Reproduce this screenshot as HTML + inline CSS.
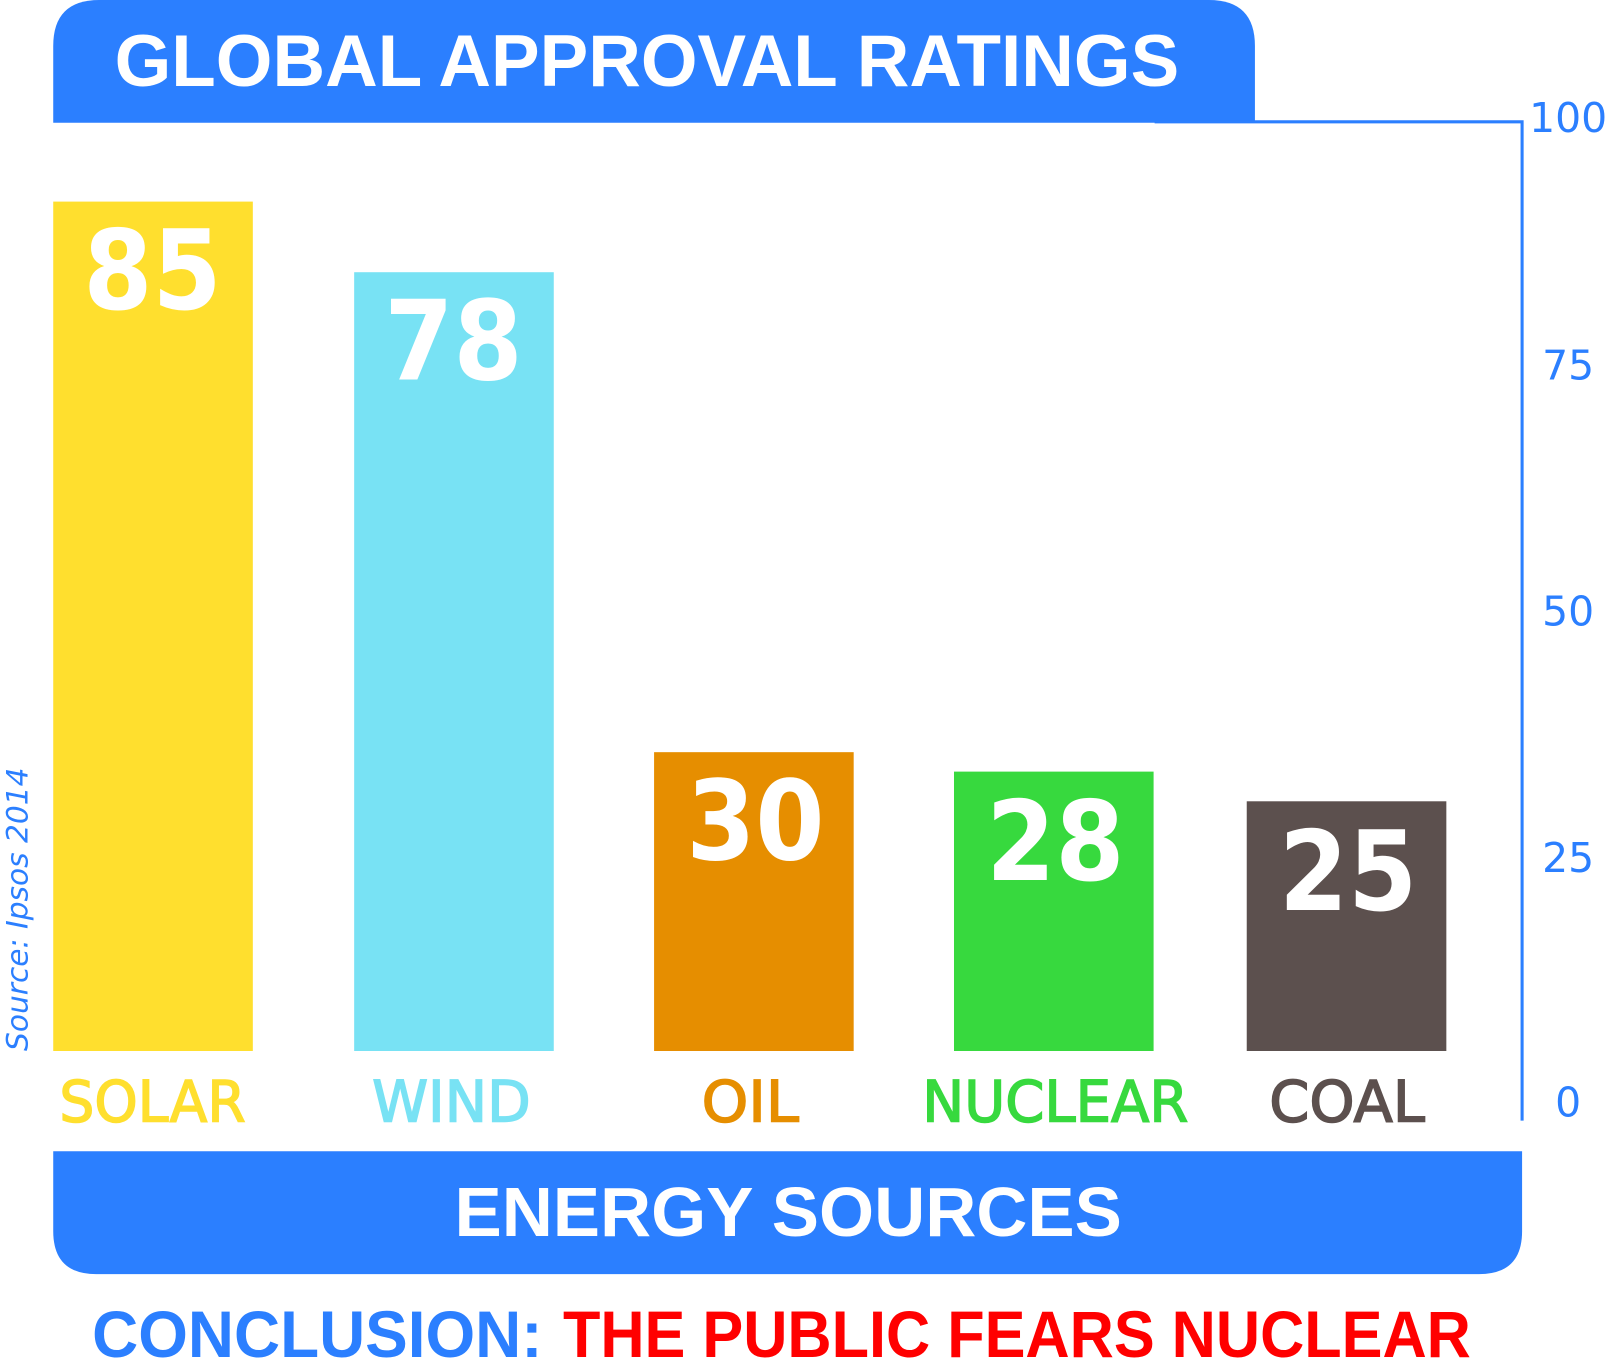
<!DOCTYPE html>
<html><head><meta charset="utf-8"><style>
html,body{margin:0;padding:0;background:#fff;width:1605px;height:1358px;overflow:hidden}
svg{display:block}
text{font-family:"DejaVu Sans","Liberation Sans",sans-serif}
.lib{font-family:"Liberation Sans",sans-serif}
</style></head><body>
<svg width="1605" height="1358" viewBox="0 0 1568 1327" preserveAspectRatio="none" xmlns="http://www.w3.org/2000/svg">
<path d="M52,120 L52,45 Q52,0 97,0 L1181,0 Q1226,0 1226,45 L1226,120 Z" fill="#2B7FFF"/>
<text class="lib" x="632" y="84" text-anchor="middle" fill="#fff" font-size="72" font-weight="bold" textLength="1040" lengthAdjust="spacingAndGlyphs">GLOBAL APPROVAL RATINGS</text>
<polyline points="1128,119 1487,119 1487,1095" fill="none" stroke="#2B7FFF" stroke-width="3"/>
<g fill="#2B7FFF" font-size="40" text-anchor="middle">
<text x="1532" y="129">100</text>
<text x="1532" y="371">75</text>
<text x="1532" y="611">50</text>
<text x="1532" y="852">25</text>
<text x="1532" y="1091">0</text>
</g>
<rect x="52" y="197" width="195" height="830" fill="#FFDF2E"/>
<rect x="346" y="266" width="195" height="761" fill="#78E2F4"/>
<rect x="639" y="735" width="195" height="292" fill="#E68E00"/>
<rect x="932" y="754" width="195" height="273" fill="#37D93E"/>
<rect x="1218" y="783" width="195" height="244" fill="#5C504E"/>
<g fill="#fff" font-size="108" font-weight="bold" text-anchor="middle">
<text x="149" y="302" textLength="135" lengthAdjust="spacingAndGlyphs">85</text>
<text x="443" y="371" textLength="135" lengthAdjust="spacingAndGlyphs">78</text>
<text x="738" y="840" textLength="135" lengthAdjust="spacingAndGlyphs">30</text>
<text x="1031" y="860" textLength="135" lengthAdjust="spacingAndGlyphs">28</text>
<text x="1317" y="889" textLength="135" lengthAdjust="spacingAndGlyphs">25</text>
</g>
<g font-size="56" text-anchor="middle" stroke-width="1.5">
<text x="149" y="1096" fill="#FFDF2E" stroke="#FFDF2E" textLength="182" lengthAdjust="spacingAndGlyphs">SOLAR</text>
<text x="441" y="1096" fill="#78E2F4" stroke="#78E2F4" textLength="155" lengthAdjust="spacingAndGlyphs">WIND</text>
<text x="733" y="1096" fill="#E68E00" stroke="#E68E00" textLength="95" lengthAdjust="spacingAndGlyphs">OIL</text>
<text x="1031" y="1096" fill="#37D93E" stroke="#37D93E" textLength="260" lengthAdjust="spacingAndGlyphs">NUCLEAR</text>
<text x="1316" y="1096" fill="#5C504E" stroke="#5C504E" textLength="152" lengthAdjust="spacingAndGlyphs">COAL</text>
</g>
<text transform="translate(27,1027) rotate(-90)" fill="#2B7FFF" font-size="29" font-style="italic" textLength="277" lengthAdjust="spacingAndGlyphs">Source: Ipsos 2014</text>
<path d="M52,1125 L1487,1125 L1487,1203 Q1487,1245 1445,1245 L94,1245 Q52,1245 52,1203 Z" fill="#2B7FFF"/>
<text class="lib" x="770" y="1208" text-anchor="middle" fill="#fff" font-size="68" font-weight="bold" textLength="652" lengthAdjust="spacingAndGlyphs">ENERGY SOURCES</text>
<text class="lib" x="90" y="1326" fill="#2B7FFF" font-size="64" font-weight="bold" textLength="440" lengthAdjust="spacingAndGlyphs">CONCLUSION:</text>
<text class="lib" x="550" y="1326" fill="#FF0000" font-size="64" font-weight="bold" textLength="887" lengthAdjust="spacingAndGlyphs">THE PUBLIC FEARS NUCLEAR</text>
</svg>
</body></html>
